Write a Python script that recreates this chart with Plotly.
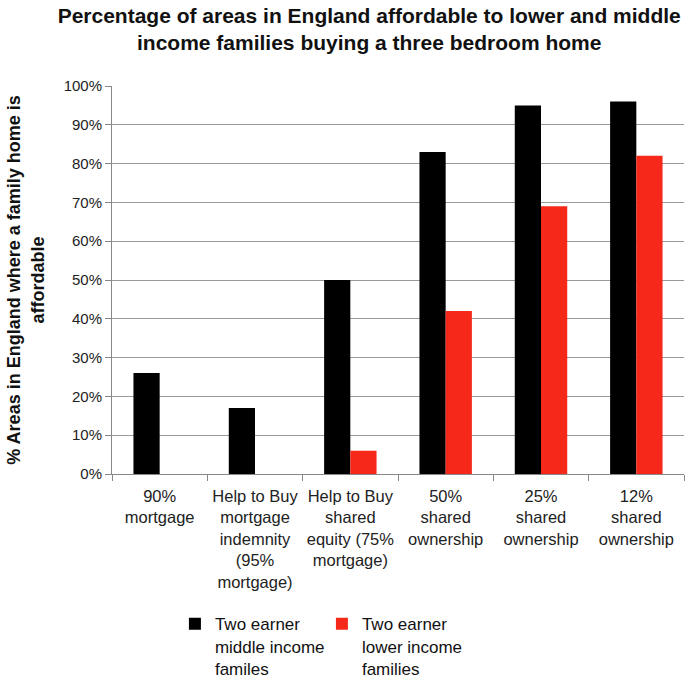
import plotly.graph_objects as go

categories = ["90%<br>mortgage", "Help to Buy<br>mortgage<br>indemnity<br>(95%<br>mortgage)",
              "Help to Buy<br>shared<br>equity (75%<br>mortgage)", "50%<br>shared<br>ownership",
              "25%<br>shared<br>ownership", "12%<br>shared<br>ownership"]
middle = [26, 17, 50, 83, 95, 96]
lower = [0, 0, 6, 42, 69, 82]
tick_vals = [0, 10, 20, 30, 40, 50, 60, 70, 80, 90, 100]
tick_text = [f"{v}%" for v in tick_vals]

FONT = "Arial, Liberation Sans, sans-serif"

fig = go.Figure()
fig.add_trace(go.Bar(x=categories, y=middle, name="Two earner<br>middle income<br>familes",
                     marker=dict(color="#000000", line=dict(width=0))))
fig.add_trace(go.Bar(x=categories, y=lower, name="Two earner<br>lower income<br>families",
                     marker=dict(color="#F5281A", line=dict(width=0))))

fig.update_layout(
    width=694, height=682,
    margin=dict(l=112, r=10, t=86, b=208),
    paper_bgcolor="white", plot_bgcolor="white",
    barmode="group", bargap=0.45, bargroupgap=0,
    font=dict(family=FONT, size=15, color="#222"),
    title=dict(text="<b>Percentage of areas in England affordable to lower and middle<br>income families buying a three bedroom home</b>",
               x=0.532, xanchor="center", y=0.966, yanchor="top",
               font=dict(family=FONT, size=21, color="#111")),
    xaxis=dict(showline=True, linecolor="#888", linewidth=1, ticks="outside", ticklen=6,
               tickcolor="#888", tickson="boundaries", showgrid=False,
               ticklabelstandoff=7,
               tickfont=dict(family=FONT, size=16.5, color="#222"), tickangle=0),
    yaxis=dict(range=[0, 100], tickvals=tick_vals, ticktext=tick_text,
               showline=True, linecolor="#888", linewidth=1, ticks="outside", ticklen=6,
               tickcolor="#888", showgrid=True, gridcolor="#999", gridwidth=1,
               tickfont=dict(family=FONT, size=15, color="#222"),
               title=dict(text="<b>% Areas in England where a family home is<br>affordable</b>",
                          font=dict(family=FONT, size=18, color="#111"), standoff=14)),
    legend=dict(orientation="h", x=0.11, xanchor="left", yref="container", y=0.111, yanchor="top",
                font=dict(family=FONT, size=17, color="#111"), valign="top",
                entrywidth=102, itemwidth=30, traceorder="normal"),
)

fig.write_html("out.html")
